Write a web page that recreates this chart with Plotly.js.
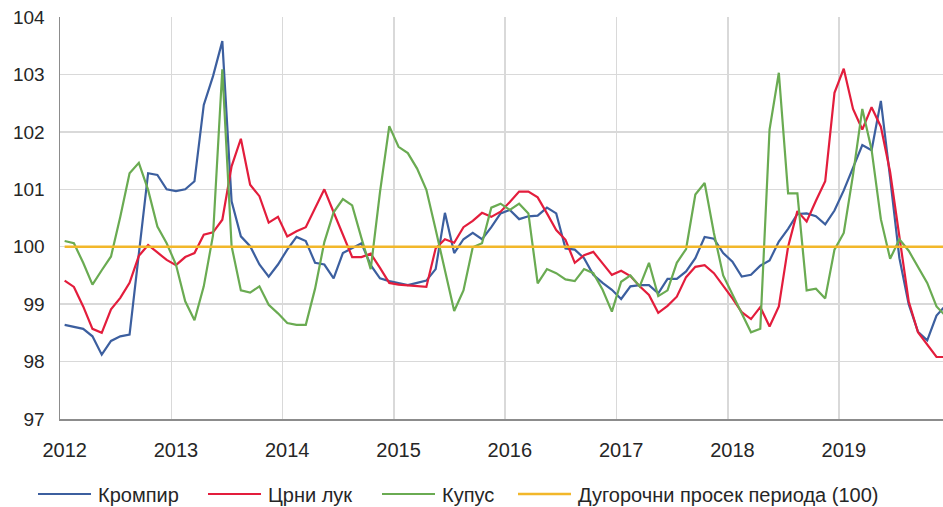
<!DOCTYPE html>
<html>
<head>
<meta charset="utf-8">
<script src="https://cdn.plot.ly/plotly-3.0.1.min.js"></script>
<style>
  html, body { margin: 0; padding: 0; background: #ffffff; overflow: hidden; }
  #chart { width: 943px; height: 507px; }
</style>
</head>
<body>
<div id="chart"></div>
<script>
// Year labels (each year = 12 monthly observations, Jan 2012 – Dec 2019)
const years = ['2012', '2013', '2014', '2015', '2016', '2017', '2018', '2019'];

// Кромпир (potato)
const krompir = [
  98.64, 98.61, 98.57, 98.44, 98.12, 98.36, 98.44, 98.47, 99.85, 101.28, 101.25, 101.00,
  100.97, 101.00, 101.14, 102.47, 102.97, 103.58, 100.79, 100.18, 100.01, 99.69, 99.48, 99.69,
  99.95, 100.17, 100.10, 99.72, 99.69, 99.45, 99.89, 99.98, 100.06, 99.68, 99.45, 99.40,
  99.36, 99.33, 99.37, 99.41, 99.61, 100.59, 99.89, 100.13, 100.24, 100.13, 100.34, 100.58,
  100.64, 100.48, 100.53, 100.54, 100.68, 100.58, 99.97, 99.95, 99.80, 99.51, 99.37, 99.25,
  99.09, 99.31, 99.33, 99.33, 99.19, 99.44, 99.44, 99.57, 99.80, 100.17, 100.14, 99.89,
  99.74, 99.48, 99.51, 99.67, 99.76, 100.09, 100.31, 100.57, 100.58, 100.53, 100.39, 100.63,
  100.98, 101.36, 101.77, 101.68, 102.54, 101.20, 99.80, 99.00, 98.52, 98.37, 98.80, 98.98
];

// Црни лук (onion)
const crniLuk = [
  99.41, 99.30, 98.96, 98.57, 98.50, 98.91, 99.11, 99.37, 99.84, 100.03, 99.90, 99.77,
  99.68, 99.82, 99.89, 100.21, 100.25, 100.47, 101.40, 101.88, 101.08, 100.88, 100.42, 100.52,
  100.18, 100.27, 100.34, 100.67, 101.00, 100.60, 100.20, 99.82, 99.82, 99.88, 99.63, 99.37,
  99.34, 99.33, 99.31, 99.30, 99.97, 100.13, 100.07, 100.34, 100.45, 100.59, 100.52, 100.61,
  100.78, 100.96, 100.96, 100.86, 100.58, 100.29, 100.12, 99.72, 99.85, 99.91, 99.71, 99.51,
  99.58, 99.49, 99.31, 99.16, 98.85, 98.97, 99.13, 99.47, 99.65, 99.68, 99.54, 99.33,
  99.10, 98.86, 98.74, 98.95, 98.61, 98.96, 100.00, 100.62, 100.44, 100.80, 101.14, 102.68,
  103.10, 102.40, 102.04, 102.43, 102.09, 101.30, 100.15, 99.05, 98.51, 98.30, 98.08, 98.08
];

// Купус (cabbage)
const kupus = [
  100.10, 100.06, 99.72, 99.34, 99.59, 99.83, 100.52, 101.28, 101.46, 100.99, 100.35, 100.06,
  99.69, 99.05, 98.72, 99.31, 100.20, 103.09, 100.01, 99.24, 99.20, 99.31, 98.99, 98.84,
  98.67, 98.64, 98.64, 99.27, 100.08, 100.60, 100.83, 100.72, 100.15, 99.61, 100.95, 102.10,
  101.74, 101.63, 101.36, 100.99, 100.30, 99.58, 98.88, 99.24, 99.99, 100.06, 100.68, 100.75,
  100.64, 100.75, 100.58, 99.36, 99.61, 99.54, 99.43, 99.40, 99.61, 99.54, 99.25, 98.87,
  99.39, 99.50, 99.31, 99.72, 99.14, 99.24, 99.72, 99.96, 100.91, 101.11, 100.24, 99.50,
  99.17, 98.86, 98.51, 98.57, 102.04, 103.03, 100.93, 100.93, 99.24, 99.27, 99.10, 99.95,
  100.24, 101.25, 102.40, 101.69, 100.48, 99.79, 100.13, 99.93, 99.66, 99.37, 98.96, 98.79
];

// Long-term period average
const longTermAverage = 100;

const seriesNames = ['Кромпир', 'Црни лук', 'Купус', 'Дугорочни просек периода (100)'];
const seriesColors = ['#3C5F9F', '#E31D3C', '#6AAB52', '#F2B72A'];

const monthsPerYear = 12;
const monthIdx = krompir.map((_, i) => i);
const yearLabelVals = years.map((_, k) => k * monthsPerYear);        // label at January
const yearGridVals = years.map((_, k) => k * monthsPerYear - 0.5);   // grid between Dec/Jan

const font = 'Liberation Sans, Arial, sans-serif';
const textColor = '#262626';

const W = 943, H = 507;
const M = { l: 60, r: 0, t: 17, b: 88 };
const plotW = W - M.l - M.r, plotH = H - M.t - M.b;
const px2paperX = (px) => (px - M.l) / plotW;
const px2paperY = (py) => (H - M.b - py) / plotH;

const traces = [
  { x: monthIdx, y: krompir, name: seriesNames[0], type: 'scatter', mode: 'lines',
    line: { color: seriesColors[0], width: 2.2 } },
  { x: monthIdx, y: crniLuk, name: seriesNames[1], type: 'scatter', mode: 'lines',
    line: { color: seriesColors[1], width: 2.2 } },
  { x: monthIdx, y: kupus, name: seriesNames[2], type: 'scatter', mode: 'lines',
    line: { color: seriesColors[2], width: 2.2 } },
  { x: [monthIdx[0], monthIdx[monthIdx.length - 1]], y: [longTermAverage, longTermAverage],
    name: seriesNames[3], type: 'scatter', mode: 'lines',
    line: { color: seriesColors[3], width: 2.6 } }
];

// Custom legend (Excel-style long line samples)
const legendLinePx = [38, 208, 382, 518];
const legendLineLen = 53;
const legendTextGap = 6;
const legendY = 494;
const shapes = [];
const annotations = [];
seriesNames.forEach((name, i) => {
  shapes.push({
    type: 'line', xref: 'paper', yref: 'paper',
    x0: px2paperX(legendLinePx[i]), x1: px2paperX(legendLinePx[i] + legendLineLen),
    y0: px2paperY(legendY), y1: px2paperY(legendY),
    line: { color: seriesColors[i], width: i === 3 ? 2.6 : 2.2 }
  });
  annotations.push({
    xref: 'paper', yref: 'paper',
    x: px2paperX(legendLinePx[i] + legendLineLen + legendTextGap),
    y: px2paperY(legendY + 1),
    xanchor: 'left', yanchor: 'middle',
    text: name, showarrow: false, borderpad: 0,
    font: { family: font, size: 20, color: textColor }
  });
});

const layout = {
  width: W,
  height: H,
  margin: { l: M.l, r: M.r, t: M.t, b: M.b, pad: 0 },
  paper_bgcolor: '#ffffff',
  plot_bgcolor: '#ffffff',
  showlegend: false,
  shapes: shapes,
  annotations: annotations,
  xaxis: {
    range: [-0.5, 94.7],
    tickmode: 'array',
    tickvals: yearLabelVals,
    ticktext: years,
    showgrid: false,
    minor: {
      tickmode: 'array',
      tickvals: yearGridVals,
      showgrid: true,
      gridcolor: '#D9D9D9',
      gridwidth: 1.5,
      ticks: ''
    },
    zeroline: false,
    showline: true,
    linecolor: '#8C8C8C',
    linewidth: 1.5,
    ticks: '',
    ticklabelstandoff: 12,
    tickfont: { family: font, size: 20, color: textColor },
    fixedrange: true
  },
  yaxis: {
    range: [97, 104],
    tickmode: 'array',
    tickvals: [97, 98, 99, 100, 101, 102, 103, 104],
    showgrid: true,
    gridcolor: '#D9D9D9',
    gridwidth: 1.5,
    zeroline: false,
    showline: true,
    linecolor: '#8C8C8C',
    linewidth: 1.5,
    ticks: '',
    ticklabelstandoff: 10,
    tickfont: { family: font, size: 19, color: textColor },
    fixedrange: true
  }
};

Plotly.newPlot('chart', traces, layout, { displayModeBar: false, staticPlot: true });
</script>
</body>
</html>
